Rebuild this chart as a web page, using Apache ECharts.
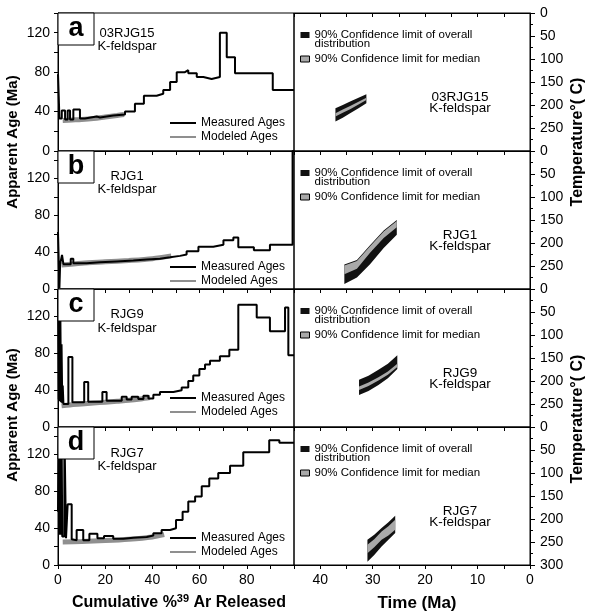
<!DOCTYPE html>
<html>
<head>
<meta charset="utf-8">
<script src="https://cdn.jsdelivr.net/npm/echarts@6.0.0/dist/echarts.min.js"></script>
<style>
  html, body { margin: 0; padding: 0; background: #fff; }
  #main { width: 590px; height: 615px; }
</style>
</head>
<body>
<div id="main"></div>
<script>
// panel letters / sample names
var panelLetters = ['a', 'b', 'c', 'd'];
var sampleNames = ['03RJG15', 'RJG1', 'RJG9', 'RJG7'];
var mineralName = 'K-feldspar';

// tick labels
var ageTicks = [0, 40, 80, 120];
var cumTicks = [0, 20, 40, 60, 80];
var timeTicks = [40, 30, 20, 10, 0];
var tempTicks = [0, 50, 100, 150, 200, 250];
var ageMax = [140, 150, 150, 150];

// measured age spectra: [cumulative %39Ar at step start, apparent age (Ma)]
var measuredA = [[0,78],[0.3,56],[0.6,33],[1.6,41],[3.0,32],[4.1,41],[5.1,32],[6.5,42],[9.3,33],[11.4,35],
  [16.4,34],[17.8,36],[23.4,37],[28.4,40],[32.6,48],[36.4,56],[41.8,58],[44.6,62],[47.5,70],[50.3,80],
  [53.8,82],[55.2,79],[58.8,75],[61.6,73],[65.1,75],[68.6,120],[71.5,95],[75,79],[91,62],[100,62]];
var measuredB = [[0,62],[0.6,1],[0.9,27],[1.7,37],[2.3,27],[5.4,33],[6.5,28],[12.1,29],[17.8,30],[24.9,31],
  [31.9,32],[37.6,33],[43.2,34.5],[47.5,36],[51.7,37.5],[54.5,41],[59.5,46],[65.8,48],[70.1,53],[74.3,56],
  [76.4,45.5],[83,42],[89.8,48],[99.4,150],[100,150]];
var measuredC = [[0,150],[0.3,30],[0.5,140],[0.8,28],[1.0,120],[1.3,27],[1.5,90],[1.8,26],[2.0,45],[2.3,25],
  [4.4,76],[6.1,27],[11.1,49],[12.8,27.5],[18.8,38],[20.6,28.5],[27,33],[29.1,30],[31.2,33],[34,30.5],
  [36.2,34],[38.3,31],[40.4,35],[43.2,38],[48.9,40],[52.4,43],[55.2,50],[57.3,56],[59.9,63],[62.3,68],
  [64.4,72],[68.6,77],[72.6,84],[76.4,133],[84.2,119],[89.8,104],[96.2,130],[97.6,78],[100,78]];
var measuredD = [[0,58],[0.3,150],[0.6,33],[0.9,150],[1.2,33],[1.5,150],[1.8,31],[2.7,150],[3.4,29],[4.1,66],
  [5.8,28],[6.2,27],[7.9,38],[10.7,27],[13.3,34],[16.7,29],[19.5,31.6],[23.4,28.5],[27.7,29.5],[31.9,30.5],
  [37.6,32],[40.4,34.5],[43.9,38],[47.5,40],[50,49],[52.8,58],[55.2,69],[58.1,74.5],[60.9,85.5],[64.1,94],
  [67.9,100],[72.9,108],[78.5,122.5],[89.5,135.5],[93.8,133],[100,133]];

// modeled age spectra
var modeledA = [[2,31],[6,31.5],[10,32],[15,33],[20,34.5],[25,36],[28,37]];
var modeledB = [[1.5,26],[10,28],[20,29.5],[30,31],[40,33],[48,36]];
var modeledC = [[1.5,23],[5,24],[10,25],[15,26],[20,27],[25,28],[30,29],[35,30.5],[39,32]];
var modeledD = [[2,25],[10,25.5],[20,26.5],[30,28],[40,30.5],[45,33]];

// thermal history envelopes: time (Ma) and temperature (deg C) limits
var bandTimeA = [37.1, 35.7, 34.3, 32.7, 31.2];
var bandTimeB = [35.4, 33.0, 30.5, 27.9, 25.4];
var bandTimeC = [32.6, 30.8, 28.9, 27.1, 25.3];
var bandTimeD = [31.0, 29.7, 28.3, 27.0, 25.7];
var overallTopA = [207, 200, 192.5, 184.5, 176.5];
var overallTopB = [247, 237, 205, 173, 150];
var overallTopC = [197.5, 188.7, 175.6, 162.4, 144.1];
var overallTopD = [245.3, 234.3, 219.7, 207.3, 192.7];
var overallBotA = [236, 227.5, 218, 207, 196];
var overallBotB = [289, 275, 246, 211, 182];
var overallBotC = [230.4, 221.7, 208.5, 193.9, 174.1];
var overallBotD = [292.7, 278.1, 259.9, 245.3, 230.7];
var medianTopA = [218, 210, 202, 193, 184];
var medianTopB = [249, 239, 207, 175, 152];
var medianTopC = [212.1, 203.4, 191.7, 179.2, 162.4];
var medianTopD = [256.2, 243.8, 227, 216, 201.5];
var medianBotA = [225, 217, 209, 199, 189];
var medianBotB = [268, 256, 221, 189, 166];
var medianBotC = [219.5, 210.7, 199, 186.5, 169.7];
var medianBotD = [274.5, 261.3, 245.3, 235.8, 223.4];

var measured = [measuredA, measuredB, measuredC, measuredD];
var modeled = [modeledA, modeledB, modeledC, modeledD];
var bandTime = [bandTimeA, bandTimeB, bandTimeC, bandTimeD];
var overallTop = [overallTopA, overallTopB, overallTopC, overallTopD];
var overallBot = [overallBotA, overallBotB, overallBotC, overallBotD];
var medianTop = [medianTopA, medianTopB, medianTopC, medianTopD];
var medianBot = [medianBotA, medianBotB, medianBotC, medianBotD];

var OVERALL = '90% Confidence limit of overall\ndistribution';
var MEDIAN = '90% Confidence limit for median';

// layout
var FONT = '"Liberation Sans", Arial, sans-serif';
var tops = [13, 151, 289, 427];
var PH = 138, PW = 236, LX = 58, RX = 294;
var legendRel = [110, 116, 109, 111];
var leftLabelRel = [27, 32, 32.5, 33];

var chart = echarts.init(document.getElementById('main'));

function bandSeries(name, p, lo, hi, color) {
  var t = bandTime[p];
  return {
    type: 'custom', name: name, xAxisIndex: 4 + p, yAxisIndex: 4 + p,
    itemStyle: { color: color },
    data: t.map(function (v, i) { return [v, lo[i], hi[i]]; }),
    renderItem: function (params, api) {
      if (params.dataIndex !== 0) return null;
      var upper = [], lower = [];
      for (var i = 0; i < t.length; i++) {
        upper.push(api.coord([t[i], lo[i]]));
        lower.unshift(api.coord([t[i], hi[i]]));
      }
      return { type: 'polygon', shape: { points: upper.concat(lower) }, style: { fill: color } };
    }
  };
}

var grids = [], xAxes = [], yAxes = [], series = [], legends = [], graphics = [];
var blk = { color: '#000', width: 1 };

for (var g = 0; g < 8; g++) {
  var p = g % 4, isLeft = g < 4;
  grids.push({ left: isLeft ? LX : RX, top: tops[p], width: PW, height: PH, show: true,
    borderColor: '#000', borderWidth: 1, outerBoundsMode: 'none' });
  xAxes.push({
    gridIndex: g, type: 'value', position: 'top',
    min: 0, max: isLeft ? 100 : 45, interval: isLeft ? 10 : 5, inverse: !isLeft,
    axisLine: { show: true, lineStyle: blk },
    axisTick: { show: true, inside: true, length: 4, lineStyle: blk },
    axisLabel: { show: false }, splitLine: { show: false }
  });
  if (isLeft) {
    yAxes.push({
      gridIndex: g, type: 'value', position: 'left', min: 0, max: ageMax[p], interval: 20,
      axisLine: { show: true, lineStyle: blk },
      axisTick: { show: true, length: 4, lineStyle: blk },
      axisLabel: { color: '#000', fontSize: 14, fontFamily: FONT, margin: 8,
        formatter: function (v) { return ageTicks.indexOf(v) >= 0 ? String(v) : ''; } },
      splitLine: { show: false }
    });
  } else {
    yAxes.push({
      gridIndex: g, type: 'value', position: 'right', min: 0, max: 300, interval: 50, inverse: true,
      axisLine: { show: true, lineStyle: blk },
      axisTick: { show: true, length: 5, lineStyle: blk },
      minorTick: { show: true, splitNumber: 2, length: 3, lineStyle: blk },
      axisLabel: { color: '#000', fontSize: 14, fontFamily: FONT, margin: 10,
        formatter: (function (last) { return function (v) {
          return (tempTicks.indexOf(v) >= 0 || (last && v === 300)) ? String(v) : ''; }; })(p === 3) },
      splitLine: { show: false }, minorSplitLine: { show: false }
    });
  }
}

// bottom axes with labels
xAxes.push({
  gridIndex: 3, type: 'value', position: 'bottom', min: 0, max: 100, interval: 10,
  axisLine: { show: true, lineStyle: blk },
  axisTick: { show: true, length: 4, lineStyle: blk },
  axisLabel: { color: '#000', fontSize: 14, fontFamily: FONT, margin: 8,
    formatter: function (v) { return cumTicks.indexOf(v) >= 0 ? String(v) : ''; } },
  splitLine: { show: false }
});
xAxes.push({
  gridIndex: 7, type: 'value', position: 'bottom', min: 0, max: 45, interval: 5, inverse: true,
  axisLine: { show: true, lineStyle: blk },
  axisTick: { show: true, length: 4, lineStyle: blk },
  axisLabel: { color: '#000', fontSize: 14, fontFamily: FONT, margin: 8,
    formatter: function (v) { return timeTicks.indexOf(v) >= 0 ? String(v) : ''; } },
  splitLine: { show: false }
});

for (var p = 0; p < 4; p++) {
  series.push({
    type: 'line', name: 'Modeled Ages', xAxisIndex: p, yAxisIndex: p, data: modeled[p],
    symbol: 'none', smooth: 0.3, color: '#8f8f8f', lineStyle: { color: '#8f8f8f', width: 5 }, z: 2
  });
  series.push({
    type: 'line', name: 'Measured Ages', xAxisIndex: p, yAxisIndex: p, data: measured[p],
    step: 'end', symbol: 'none', color: '#000', lineStyle: { color: '#000', width: 2 }, z: 3
  });
  series.push(bandSeries(OVERALL, p, overallTop[p], overallBot[p], '#111111'));
  series.push(bandSeries(MEDIAN, p, medianTop[p], medianBot[p], '#a9a9a9'));

  legends.push({
    data: ['Measured Ages', 'Modeled Ages'], orient: 'vertical', left: 170, top: tops[p] + legendRel[p] - 6,
    icon: 'rect', itemWidth: 26, itemHeight: 2, itemGap: 2, padding: 0, selectedMode: false,
    itemStyle: { borderWidth: 0 },
    textStyle: { color: '#000', fontSize: 12, fontFamily: FONT }
  });
  legends.push({
    data: [
      { name: OVERALL },
      { name: MEDIAN, itemStyle: { borderColor: '#000', borderWidth: 1 } }
    ],
    // leading blank line keeps the icon beside the first text line
    formatter: function (name) { return name === OVERALL ? '\n' + name : name; },
    orient: 'vertical', left: 300, top: tops[p] + 7, icon: 'rect', itemWidth: 9, itemHeight: 6,
    itemGap: 3, padding: 0, selectedMode: false, itemStyle: { borderWidth: 0 },
    textStyle: { color: '#000', fontSize: 11.5, fontFamily: FONT, lineHeight: 9 }
  });

  graphics.push({ type: 'rect', shape: { x: LX, y: tops[p], width: 36, height: 32 },
    style: { fill: '#fff', stroke: '#000', lineWidth: 1 }, z: 100 });
  graphics.push({ type: 'text', x: LX + 18, y: tops[p] + 16, z: 101,
    style: { text: panelLetters[p], font: 'bold 27px ' + FONT, fill: '#000', align: 'center', verticalAlign: 'middle' } });
  graphics.push({ type: 'text', x: 127, y: tops[p] + leftLabelRel[p], z: 101,
    style: { text: sampleNames[p] + '\n' + mineralName, font: '13px ' + FONT, lineHeight: 13.5,
      fill: '#000', align: 'center', verticalAlign: 'middle' } });
  graphics.push({ type: 'text', x: 460, y: tops[p] + 90, z: 101,
    style: { text: sampleNames[p] + '\n' + mineralName, font: '13.5px ' + FONT, lineHeight: 11.5,
      fill: '#000', align: 'center', verticalAlign: 'middle' } });
}

// axis titles
[142, 415].forEach(function (yc) {
  graphics.push({ type: 'text', x: 13, y: yc, rotation: Math.PI / 2,
    style: { text: 'Apparent Age (Ma)', font: 'bold 15px ' + FONT, fill: '#000', align: 'center', verticalAlign: 'middle' } });
});
[142, 419].forEach(function (yc) {
  graphics.push({ type: 'text', x: 578, y: yc, rotation: Math.PI / 2,
    style: { text: 'Temperature\u00b0( C)', font: 'bold 16px ' + FONT, fill: '#000', align: 'center', verticalAlign: 'middle' } });
});
graphics.push({ type: 'text', x: 179, y: 603,
  style: { text: '{a|Cumulative %}{s|39}{a| Ar Released}', align: 'center', verticalAlign: 'middle',
    rich: { a: { font: 'bold 16px ' + FONT, fill: '#000' },
            s: { font: 'bold 11px ' + FONT, fill: '#000', padding: [0, 0, 9, 0] } } } });
graphics.push({ type: 'text', x: 417, y: 603,
  style: { text: 'Time (Ma)', font: 'bold 17px ' + FONT, fill: '#000', align: 'center', verticalAlign: 'middle' } });

chart.setOption({
  animation: false,
  backgroundColor: '#fff',
  grid: grids, xAxis: xAxes, yAxis: yAxes, series: series, legend: legends, graphic: graphics
});
</script>
</body>
</html>
